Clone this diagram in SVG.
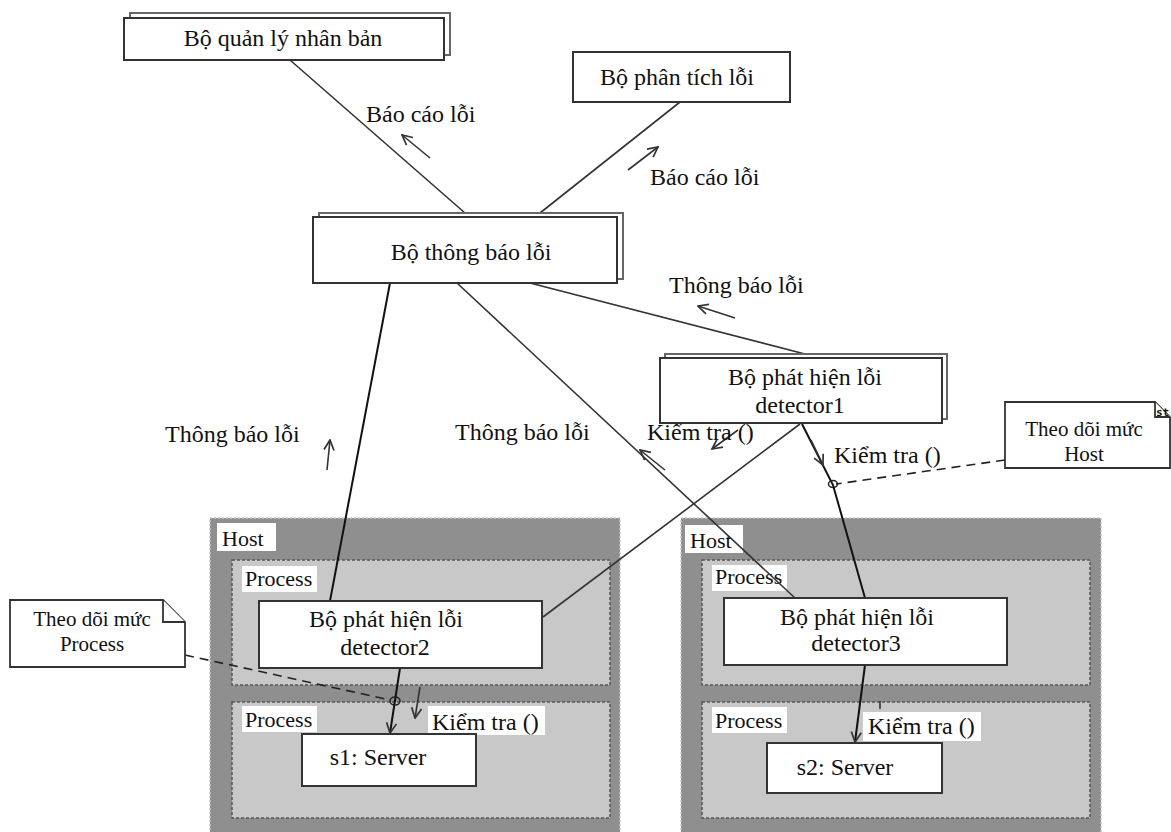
<svg xmlns="http://www.w3.org/2000/svg" width="1171" height="832" viewBox="0 0 1171 832">
<style>
text{font-family:"Liberation Serif","Times New Roman",serif;fill:#111}
.lbl{font-size:24px}
.sm{font-size:22px}
.nt{font-size:21px}
.box{fill:#fff;stroke:#333;stroke-width:2}
.back{fill:#fff;stroke:#666;stroke-width:2}
.host{fill:#8f8f8f;stroke:#c8c8c8;stroke-width:1.5;stroke-dasharray:2 2}
.proc{fill:#c8c8c8;stroke:#555;stroke-width:1.5;stroke-dasharray:3 2}
.tag{fill:#fff;stroke:none}
.ln{stroke:#333;stroke-width:1.6;fill:none}
.ln2{stroke:#111;stroke-width:2;fill:none}
.dash{stroke:#222;stroke-width:1.6;fill:none;stroke-dasharray:9 6}
.ar{stroke:#333;stroke-width:1.6;fill:none}
.note{fill:#fff;stroke:#333;stroke-width:1.8}
</style>
<defs>
<marker id="v" viewBox="0 0 12 12" refX="11" refY="6" markerWidth="12" markerHeight="12" markerUnits="userSpaceOnUse" orient="auto">
<path d="M1,1 L11,6 L1,11" fill="none" stroke="#333" stroke-width="1.7"/>
</marker>
</defs>
<rect width="1171" height="832" fill="#fff"/>

<g id="host-left">
<rect class="host" x="210" y="518" width="410" height="320"/>
<rect class="tag" x="217" y="523" width="59" height="28"/>
<text class="sm" x="222" y="546">Host</text>
<rect class="proc" x="232" y="560" width="378" height="125"/>
<rect class="tag" x="242" y="566" width="75" height="26"/>
<text class="sm" x="245" y="586">Process</text>
<rect class="proc" x="232" y="702" width="378" height="116"/>
<rect class="tag" x="242" y="706" width="75" height="26"/>
<text class="sm" x="245" y="727">Process</text>
</g>
<g id="host-right">
<rect class="host" x="681" y="518" width="420" height="320"/>
<rect class="tag" x="685" y="525" width="58" height="28"/>
<text class="sm" x="690" y="548">Host</text>
<rect class="proc" x="702" y="560" width="388" height="125"/>
<rect class="tag" x="712" y="565" width="75" height="26"/>
<text class="sm" x="715" y="584">Process</text>
<rect class="proc" x="702" y="702" width="388" height="116"/>
<rect class="tag" x="712" y="707" width="75" height="26"/>
<text class="sm" x="715" y="728">Process</text>
</g>

<g id="connectors">
<line class="ln" x1="290" y1="60" x2="465" y2="213"/>
<line class="ln" x1="680" y1="102" x2="540" y2="213"/>
<line class="ln" x1="530" y1="283" x2="805" y2="354"/>
<line class="ln2" x1="390" y1="283" x2="330" y2="601"/>
<line class="ln" x1="457" y1="283" x2="795" y2="598"/>
<line class="ln" x1="800" y1="424" x2="543" y2="617"/>
<polyline class="ln2" points="802,424 833,485 865,598"/>
<line class="ln2" x1="400" y1="668" x2="390" y2="733" marker-end="url(#v)"/>
<line class="ln2" x1="865" y1="665" x2="855" y2="742" marker-end="url(#v)"/>
<line class="dash" x1="185" y1="655" x2="390" y2="700"/>
<line class="dash" x1="1005" y1="460" x2="836" y2="484"/>
<ellipse cx="395" cy="701" rx="5" ry="4" fill="none" stroke="#222" stroke-width="1.5"/>
<ellipse cx="833" cy="484" rx="4.5" ry="3.5" fill="none" stroke="#222" stroke-width="1.5"/>
<line class="ar" x1="430" y1="158" x2="402" y2="135" marker-end="url(#v)"/>
<line class="ar" x1="628" y1="170" x2="658" y2="147" marker-end="url(#v)"/>
<line class="ar" x1="735" y1="318" x2="698" y2="306" marker-end="url(#v)"/>
<line class="ar" x1="327" y1="470" x2="330" y2="440" marker-end="url(#v)"/>
<line class="ar" x1="665" y1="470" x2="640" y2="450" marker-end="url(#v)"/>
<line class="ar" x1="738" y1="430" x2="712" y2="449" marker-end="url(#v)"/>
<line class="ar" x1="811" y1="440" x2="823" y2="465" marker-end="url(#v)"/>
<line class="ar" x1="420" y1="687" x2="415" y2="718" marker-end="url(#v)"/>
<line class="ar" x1="880" y1="701" x2="880" y2="709"/>
<text class="lbl" x="366" y="122">Báo cáo lỗi</text>
<text class="lbl" x="650" y="185">Báo cáo lỗi</text>
<text class="lbl" x="669" y="293">Thông báo lỗi</text>
<text class="lbl" x="165" y="442">Thông báo lỗi</text>
<text class="lbl" x="455" y="440">Thông báo lỗi</text>
<text class="lbl" x="647" y="440">Kiểm tra ()</text>
<text class="lbl" x="834" y="463">Kiểm tra ()</text>
<rect class="tag" x="428" y="706" width="117" height="29"/>
<text class="lbl" x="432" y="730">Kiểm tra ()</text>
<rect class="tag" x="863" y="712" width="118" height="29"/>
<text class="lbl" x="868" y="734">Kiểm tra ()</text>
</g>

<g id="replica-manager">
<rect class="back" x="130" y="13" width="320" height="42"/>
<rect class="box" x="124" y="18" width="320" height="42"/>
<text class="lbl" x="283" y="46" text-anchor="middle">Bộ quản lý nhân bản</text>
</g>
<g id="fault-analyzer">
<rect class="box" x="573" y="52" width="217" height="50"/>
<text class="lbl" x="677" y="85" text-anchor="middle">Bộ phân tích lỗi</text>
</g>
<g id="fault-notifier">
<rect class="back" x="319" y="213" width="304" height="66"/>
<rect class="box" x="313" y="217" width="304" height="66"/>
<text class="lbl" x="471" y="260" text-anchor="middle">Bộ thông báo lỗi</text>
</g>
<g id="detector1">
<rect class="back" x="665" y="354" width="282" height="65"/>
<rect class="box" x="660" y="358" width="282" height="65"/>
<text class="lbl" x="805" y="385" text-anchor="middle">Bộ phát hiện lỗi</text>
<text class="lbl" x="800" y="413" text-anchor="middle">detector1</text>
</g>
<g id="detector2">
<rect class="box" x="259" y="601" width="283" height="67"/>
<text class="lbl" x="386" y="627" text-anchor="middle">Bộ phát hiện lỗi</text>
<text class="lbl" x="385" y="655" text-anchor="middle">detector2</text>
</g>
<g id="detector3">
<rect class="box" x="724" y="598" width="283" height="67"/>
<text class="lbl" x="857" y="625" text-anchor="middle">Bộ phát hiện lỗi</text>
<text class="lbl" x="856" y="651" text-anchor="middle">detector3</text>
</g>
<g id="server1">
<rect class="box" x="302" y="734" width="174" height="52"/>
<text class="lbl" x="378" y="765" text-anchor="middle">s1: Server</text>
</g>
<g id="server2">
<rect class="box" x="767" y="743" width="175" height="50"/>
<text class="lbl" x="845" y="775" text-anchor="middle">s2: Server</text>
</g>
<g id="note-host">
<path class="note" d="M1005,402 H1155 L1170,417 V468 H1005 Z"/>
<path class="note" d="M1155,402 V417 H1170" fill="none"/>
<text class="nt" x="1084" y="436" text-anchor="middle">Theo dõi mức</text>
<text class="nt" x="1084" y="461" text-anchor="middle">Host</text>
<text x="1156" y="416" style="font-family:'DejaVu Sans Mono',monospace;font-size:11px;font-weight:bold">st</text>
</g>
<g id="note-process">
<path class="note" d="M10,600 H163 L185,622 V667 H10 Z"/>
<path class="note" d="M163,600 V622 H185" fill="none"/>
<text class="nt" x="92" y="626" text-anchor="middle">Theo dõi mức</text>
<text class="nt" x="92" y="651" text-anchor="middle">Process</text>
</g>
</svg>
